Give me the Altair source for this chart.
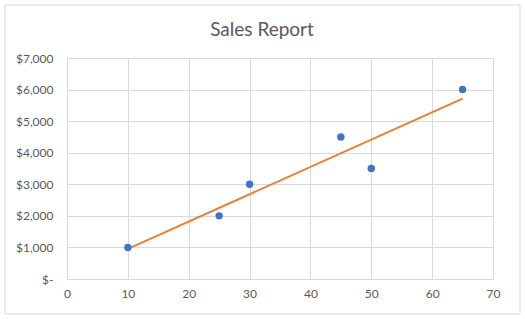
import altair as alt
import pandas as pd

units = [10, 25, 30, 45, 50, 65]
sales = [1000, 2000, 3000, 4500, 3500, 6000]
x_ticks = [0, 10, 20, 30, 40, 50, 60, 70]
y_ticks = [0, 1000, 2000, 3000, 4000, 5000, 6000, 7000]
title_text = "Sales Report"

df = pd.DataFrame({"units": units, "sales": sales})

FONT = "Lato"
GRAY = "#595959"
GRID = "#d9d9d9"

x_enc = alt.X("units:Q", scale=alt.Scale(domain=[0, 70], nice=False),
              axis=alt.Axis(values=x_ticks, title=None, grid=True, gridColor=GRID,
                            domain=False, ticks=False, labelPadding=9, labelFlush=False,
                            labelOverlap=False,
                            labelColor=GRAY, labelFontSize=12, labelFont=FONT))
y_enc = alt.Y("sales:Q", scale=alt.Scale(domain=[0, 7000], nice=False),
              axis=alt.Axis(values=y_ticks, title=None, grid=True, gridColor=GRID,
                            domain=False, ticks=False, labelPadding=14, labelFlush=False,
                            labelOverlap=False,
                            labelColor=GRAY, labelFontSize=12, labelFont=FONT,
                            labelExpr="datum.value == 0 ? '$-   ' : '$' + format(datum.value, ',')"))

base = alt.Chart(df)

points = base.mark_circle(size=55, color="#4472C4", opacity=1).encode(x=x_enc, y=y_enc)

trend = base.transform_regression("units", "sales", method="linear").mark_line(
    color="#ED7D31", strokeWidth=2
).encode(x=x_enc, y=y_enc)

deco = pd.DataFrame({"t": [title_text]})

border = alt.Chart(deco).mark_rect(
    fill=None, stroke=GRID, strokeWidth=1, clip=False
).encode(x=alt.value(-62), x2=alt.value(453), y=alt.value(-53), y2=alt.value(256))

title = alt.Chart(deco).mark_text(
    font=FONT, fontSize=19, color=GRAY, align="center", baseline="alphabetic"
).encode(text="t:N", x=alt.value(195), y=alt.value(-22))

chart = alt.layer(trend, points, border, title).properties(
    width=426, height=221,
    padding={"left": 67, "top": 58, "right": 32, "bottom": 40},
    autosize=alt.AutoSizeParams(type="none"),
).configure_view(stroke=None).configure(background="white")

chart.save("out.html", embed_options={"renderer": "svg", "actions": False})
